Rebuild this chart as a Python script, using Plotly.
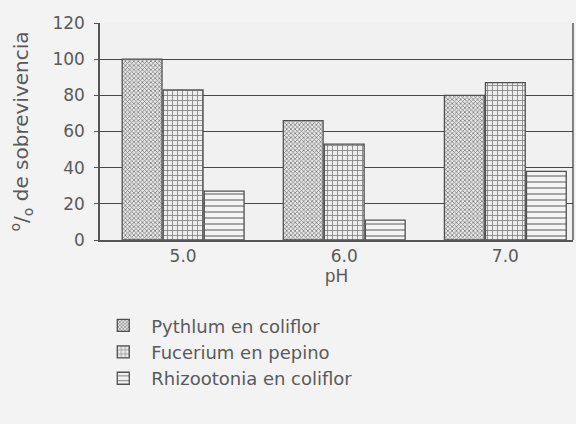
import plotly.graph_objects as go

categories = ["5.0", "6.0", "7.0"]
pythium = [100, 66, 80]
fusarium = [83, 53, 87]
rhizoctonia = [27, 11, 38]
series_names = ["Pythlum en coliflor", "Fucerium en pepino", "Rhizootonia en coliflor"]
y_ticks = [0, 20, 40, 60, 80, 100, 120]

xpos = list(range(len(categories)))
patterns = [
    dict(shape="x", size=3, solidity=0.4, fgcolor="#707070", bgcolor="#e6e6e6", fillmode="replace"),
    dict(shape="+", size=5, solidity=0.3, fgcolor="#808080", bgcolor="#ededed", fillmode="replace"),
    dict(shape="-", size=6, solidity=0.25, fgcolor="#8c8c8c", bgcolor="#f4f4f4", fillmode="replace"),
]

FONT = "DejaVu Sans, Liberation Sans, Arial"
fig = go.Figure()
for i, (name, vals) in enumerate(zip(series_names, [pythium, fusarium, rhizoctonia])):
    fig.add_trace(go.Bar(
        x=xpos, y=vals, name=name, legendgroup=f"g{i}",
        marker=dict(color="#e8e8e8", pattern=patterns[i], line=dict(color="#505050", width=1.3)),
    ))

fig.update_layout(
    width=576, height=424,
    margin=dict(l=100, r=3, t=23, b=184),
    paper_bgcolor="#f3f3f3", plot_bgcolor="#f1f1f1",
    barmode="group", bargap=0.236, bargroupgap=0.03,
    font=dict(family=FONT, color="#5a5a5a", size=16),
    showlegend=True,
    legend=dict(x=-0.01, y=-0.31, xanchor="left", yanchor="top", orientation="v",
                bgcolor="rgba(0,0,0,0)", font=dict(size=18, color="#5a5a5a"),
                itemwidth=46, traceorder="normal"),
    xaxis=dict(range=[-0.516, 2.42], tickvals=xpos, ticktext=categories, showgrid=False,
               showline=True, linecolor="#555555", linewidth=1.5, ticks="", zeroline=False,
               title=dict(text="pH", font=dict(size=17), standoff=0),
               tickfont=dict(size=17)),
    yaxis=dict(range=[0, 120], tickvals=y_ticks, showgrid=True, gridcolor="#484848", gridwidth=1.3,
               showline=True, linecolor="#555555", linewidth=1.5, ticks="outside", ticklen=4,
               tickcolor="#555555", zeroline=False, tickfont=dict(size=17),
               ticklabelstandoff=6,
               title=dict(text="<sup>o</sup>/<sub>o</sub> de sobrevivencia", font=dict(size=20), standoff=18)),
)
fig.add_shape(type="line", xref="paper", yref="y", x0=1, x1=1, y0=0, y1=120,
              line=dict(color="#444444", width=1.3))
fig.write_html("out.html", config={"displayModeBar": False},
               post_script="document.body.style.margin='0';")
